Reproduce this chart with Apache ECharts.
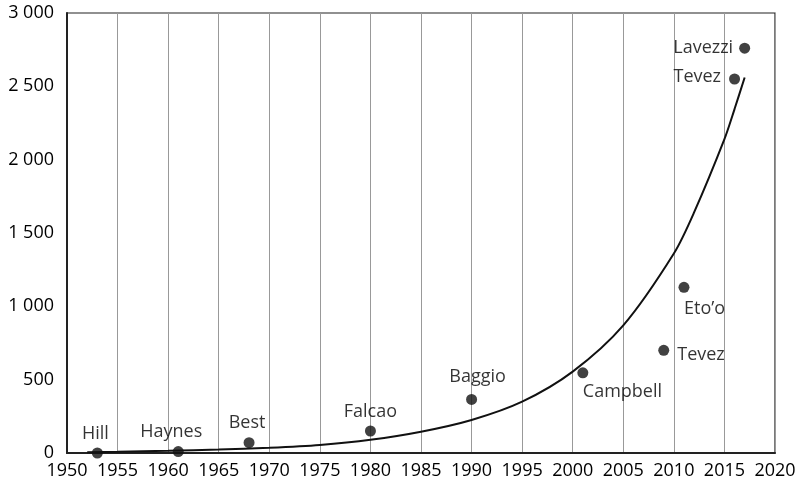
<!DOCTYPE html>
<html>
<head>
<meta charset="utf-8">
<script src="https://cdn.jsdelivr.net/npm/echarts@6/dist/echarts.min.js"></script>
<style>
  html, body { margin: 0; padding: 0; background: #fff; }
  #main { width: 802px; height: 490px; }
</style>
</head>
<body>
<div id="main"></div>
<script>
// transfer data (year, fee)
const years = [1953, 1961, 1968, 1980, 1990, 2001, 2009, 2011, 2016, 2017];
const fees = [0, 10, 70, 150, 365, 547, 700, 1130, 2550, 2760];
const players = ['Hill', 'Haynes', 'Best', 'Falcao', 'Baggio', 'Campbell', 'Tevez', 'Eto’o', 'Tevez', 'Lavezzi'];

// trend curve
const trendYears = [1952, 1955, 1960, 1965, 1970, 1975, 1980, 1985, 1990, 1995, 2000, 2005, 2010, 2012, 2015, 2016, 2017];
const trendValues = [5, 8, 15, 24, 36, 55, 90, 145, 225, 350, 555, 870, 1360, 1640, 2140, 2345, 2560];

// label placement per point
const labelPlace = [
  { position: 'top', offset: [-2, 0] },
  { position: 'top', offset: [-7, 0] },
  { position: 'top', offset: [-2, 0] },
  { position: 'top', offset: [0, 0] },
  { position: 'top', offset: [6, -3] },
  { position: 'bottom', align: 'left', offset: [0, 0] },
  { position: 'right', offset: [3, 5] },
  { position: 'bottom', align: 'left', offset: [0, 2] },
  { position: 'left', offset: [-3, -2] },
  { position: 'left', offset: [-1, 0] },
];

const textColor = '#000';
const font = '"Open Sans", "Noto Sans", sans-serif';

const chart = echarts.init(document.getElementById('main'));

const points = years.map((y, i) => ({
  value: [y, fees[i]],
  name: players[i],
  label: Object.assign({}, labelPlace[i]),
}));

chart.setOption({
  animation: false,
  grid: {
    left: 67,
    right: 27,
    top: 13,
    bottom: 37,
    show: true,
    borderColor: '#222',
    borderWidth: 1.2,
  },
  xAxis: {
    type: 'value',
    min: 1950,
    max: 2020,
    interval: 5,
    axisLine: { show: true, onZero: false, lineStyle: { color: '#222', width: 2 } },
    axisTick: { show: false },
    splitLine: { show: true, lineStyle: { color: '#999', width: 1 } },
    axisLabel: {
      color: textColor,
      fontFamily: font,
      fontSize: 18,
      margin: 9,
      formatter: (v) => String(v),
    },
  },
  yAxis: {
    type: 'value',
    min: 0,
    max: 3000,
    interval: 500,
    axisLine: { show: true, lineStyle: { color: '#222', width: 2 } },
    axisTick: { show: false },
    splitLine: { show: false },
    axisLabel: {
      color: textColor,
      fontFamily: font,
      fontSize: 18,
      margin: 13,
      formatter: (v) => String(v).replace(/\B(?=(\d{3})+(?!\d))/g, ' '),
    },
  },
  series: [
    {
      type: 'line',
      data: trendYears.map((y, i) => [y, trendValues[i]]),
      smooth: 0.3,
      showSymbol: false,
      lineStyle: { color: '#111', width: 2 },
      z: 2,
    },
    {
      type: 'scatter',
      data: points,
      symbolSize: 11,
      itemStyle: { color: '#111' },
      label: {
        show: true,
        formatter: '{b}',
        color: textColor,
        fontFamily: font,
        fontSize: 18,
        distance: 5,
      },
      z: 3,
    },
  ],
});
</script>
</body>
</html>
